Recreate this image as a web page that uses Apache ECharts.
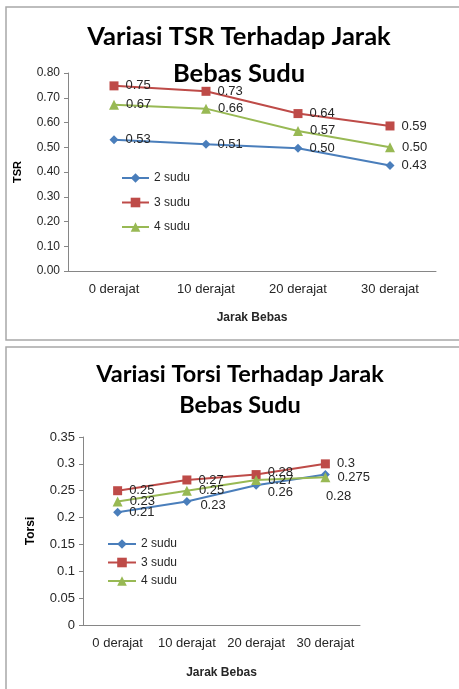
<!DOCTYPE html>
<html>
<head>
<meta charset="utf-8">
<script src="https://cdn.jsdelivr.net/npm/echarts@6/dist/echarts.min.js"></script>
<style>
html,body{margin:0;padding:0;background:#fff;}
#chart{width:459px;height:689px;}
</style>
</head>
<body>
<div id="chart"></div>
<script>
// Shared categories
const categories = ['0 derajat', '10 derajat', '20 derajat', '30 derajat'];
const seriesNames = ['2 sudu', '3 sudu', '4 sudu'];

// Chart 1: TSR
const tsr2 = [0.53, 0.512, 0.496, 0.426];
const tsr3 = [0.748, 0.726, 0.636, 0.586];
const tsr4 = [0.672, 0.656, 0.566, 0.50];
const tsrTicks = { min: 0, max: 0.8, interval: 0.1 };

// Chart 2: Torsi
const torsi2 = [0.21, 0.23, 0.26, 0.28];
const torsi3 = [0.25, 0.27, 0.28, 0.3];
const torsi4 = [0.23, 0.25, 0.27, 0.275];
const torsiTicks = { min: 0, max: 0.35, interval: 0.05 };

const colors = ['#4A7EBB', '#BE4B48', '#98B954'];
const symbols = ['diamond', 'rect', 'triangle'];
const symbolSizes = [9, 9, 10];
const font = "'Liberation Sans', Arial, sans-serif";
const titleFont = "Lato, 'Open Sans', sans-serif";

const chart = echarts.init(document.getElementById('chart'), null, { renderer: 'canvas' });

function axisCommon() {
  return {
    axisLine: { show: true, lineStyle: { color: '#868686', width: 1 } },
    splitLine: { show: false }
  };
}

function makeSeries(data, i, gridIdx, fmt, offsets) {
  return {
    name: seriesNames[i],
    type: 'line',
    xAxisIndex: gridIdx,
    yAxisIndex: gridIdx,
    data: data.map((v, j) => {
      const item = { value: v };
      if (offsets && offsets[j]) item.label = { offset: offsets[j] };
      return item;
    }),
    symbol: symbols[i],
    symbolSize: symbolSizes[i],
    itemStyle: { color: colors[i] },
    lineStyle: { color: colors[i], width: 2 },
    label: {
      show: true,
      position: 'right',
      distance: 7,
      color: '#262626',
      fontFamily: font,
      fontSize: 13,
      formatter: p => fmt(p.value)
    },
    animation: false,
    z: 3 + i
  };
}

const fmt2 = v => v.toFixed(2);
const fmtRaw = v => String(v);

const option = {
  animation: false,
  backgroundColor: '#fff',
  title: [
    {
      text: 'Variasi TSR Terhadap Jarak\nBebas Sudu',
      left: 234, top: 13, textAlign: 'center',
      textStyle: { fontFamily: titleFont, fontWeight: 'bold', fontSize: 25.5, lineHeight: 37, color: '#000' }
    },
    {
      text: 'Variasi Torsi Terhadap Jarak\nBebas Sudu',
      left: 235, top: 354, textAlign: 'center',
      textStyle: { fontFamily: titleFont, fontWeight: 'bold', fontSize: 23.5, lineHeight: 31, color: '#000' }
    }
  ],
  legend: [
    {
      data: seriesNames.map(n => ({ name: n })),
      orient: 'vertical', left: 116, top: 167,
      itemWidth: 27, itemHeight: 12, itemGap: 12.5,
      textStyle: { fontFamily: font, fontSize: 12, color: '#262626', lineHeight: 12 },
      selectedMode: false
    },
    {
      data: seriesNames.map(n => ({ name: n })),
      orient: 'vertical', left: 102, top: 533,
      itemWidth: 28, itemHeight: 12, itemGap: 6.5,
      textStyle: { fontFamily: font, fontSize: 12, color: '#262626', lineHeight: 12 },
      selectedMode: false
    }
  ],
  grid: [
    { left: 68, right: 23, top: 73, bottom: 418, containLabel: false },
    { left: 83, right: 99, top: 437, bottom: 64, containLabel: false }
  ],
  xAxis: [
    Object.assign(axisCommon(), {
      type: 'category', gridIndex: 0, data: categories, boundaryGap: true,
      axisTick: { show: false },
      axisLabel: { fontFamily: font, fontSize: 13, color: '#262626', margin: 12 },
      name: 'Jarak Bebas', nameLocation: 'middle', nameGap: 41,
      nameTextStyle: { fontFamily: font, fontSize: 12, fontWeight: 'bold', color: '#262626' }
    }),
    Object.assign(axisCommon(), {
      type: 'category', gridIndex: 1, data: categories, boundaryGap: true,
      axisTick: { show: false },
      axisLabel: { fontFamily: font, fontSize: 13, color: '#262626', margin: 12, interval: 0 },
      name: 'Jarak Bebas', nameLocation: 'middle', nameGap: 42,
      nameTextStyle: { fontFamily: font, fontSize: 12, fontWeight: 'bold', color: '#262626' }
    })
  ],
  yAxis: [
    Object.assign(axisCommon(), {
      type: 'value', gridIndex: 0,
      min: tsrTicks.min, max: tsrTicks.max, interval: tsrTicks.interval,
      axisTick: { show: true, length: 4, lineStyle: { color: '#868686' } },
      axisLabel: { fontFamily: font, fontSize: 12, color: '#262626', margin: 8, formatter: v => v.toFixed(2) },
      name: 'TSR', nameLocation: 'middle', nameGap: 45, nameRotate: 90,
      nameTextStyle: { fontFamily: font, fontSize: 11, fontWeight: 'bold', color: '#000' }
    }),
    Object.assign(axisCommon(), {
      type: 'value', gridIndex: 1,
      min: torsiTicks.min, max: torsiTicks.max, interval: torsiTicks.interval,
      axisTick: { show: true, length: 4, lineStyle: { color: '#868686' } },
      axisLabel: { fontFamily: font, fontSize: 13, color: '#262626', margin: 8,
        formatter: v => String(parseFloat(v.toFixed(2))) },
      name: 'Torsi', nameLocation: 'middle', nameGap: 46, nameRotate: 90,
      nameTextStyle: { fontFamily: font, fontSize: 12, fontWeight: 'bold', color: '#000' }
    })
  ],
  series: [
    makeSeries(tsr2, 0, 0, fmt2),
    makeSeries(tsr3, 1, 0, fmt2),
    makeSeries(tsr4, 2, 0, fmt2),
    makeSeries(torsi2, 0, 1, fmtRaw, [null, [2, 4], [0, 7], [-11, 22]]),
    makeSeries(torsi3, 1, 1, fmtRaw, [null, null, [0, -2], null]),
    makeSeries(torsi4, 2, 1, fmtRaw)
  ],
  graphic: [
    { type: 'rect', shape: { x: 6, y: 7, width: 470, height: 333 }, style: { fill: 'none', stroke: '#a8a8a8', lineWidth: 1.5 }, silent: true },
    { type: 'rect', shape: { x: 6, y: 347, width: 470, height: 360 }, style: { fill: 'none', stroke: '#a8a8a8', lineWidth: 1.5 }, silent: true }
  ]
};

chart.setOption(option);
</script>
</body>
</html>
